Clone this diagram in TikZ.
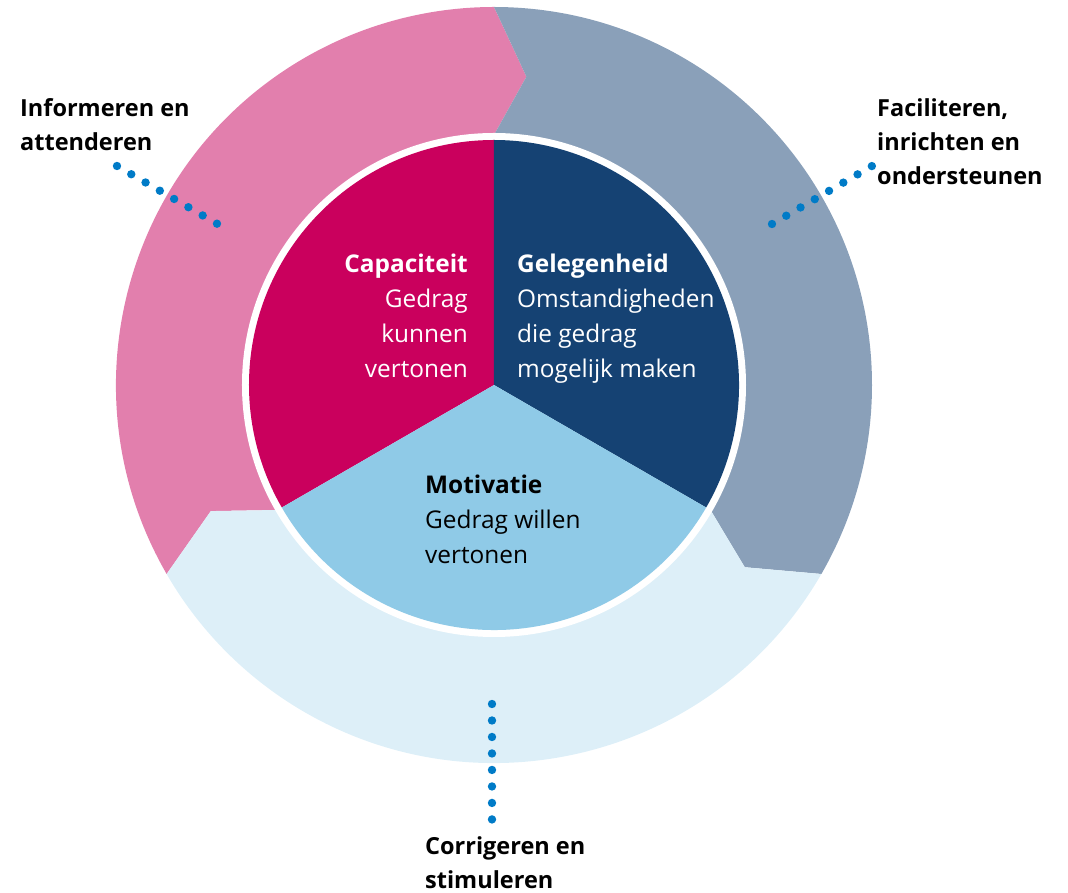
\documentclass[tikz,border=0pt]{standalone}
\usepackage{fontspec}
\setmainfont{Open Sans}
\definecolor{ringpink}{HTML}{E27FAD}
\definecolor{ringgray}{HTML}{8AA0B9}
\definecolor{ringlight}{HTML}{DDEFF8}
\definecolor{capred}{HTML}{CA005D}
\definecolor{geldark}{HTML}{154273}
\definecolor{motblue}{HTML}{8FCAE7}
\definecolor{dotblue}{HTML}{007BC7}
\begin{document}
\begin{tikzpicture}[x=1pt,y=1pt,
  inlabel/.style={inner sep=0pt,font=\fontsize{24.4}{34.7}\selectfont},
  outlabel/.style={inner sep=0pt,align=left,anchor=base west,font=\fontsize{23.5}{34}\selectfont\bfseries},
  leader/.style={draw=dotblue,line width=8.4pt,line cap=round,dash pattern=on 0pt off 16.49pt}
]
\useasboundingbox (-494,385) rectangle (574,-508);
% outer ring segments
\fill[ringpink] (210:378) arc[start angle=210,end angle=90,radius=378] -- (84:310) -- (90:250)
  arc[start angle=90,end angle=210,radius=250] -- (204:310) -- cycle;
\fill[ringgray] (90:378) arc[start angle=90,end angle=-30,radius=378] -- (-36:310) -- (-30:250)
  arc[start angle=-30,end angle=90,radius=250] -- (84:310) -- cycle;
\fill[ringlight] (-30:378) arc[start angle=-30,end angle=-150,radius=378] -- (-156:310) -- (-150:250)
  arc[start angle=-150,end angle=-30,radius=250] -- (-36:310) -- cycle;
% white separator
\fill[white] (0,0) circle[radius=252];
% inner sectors
\fill[capred] (0,0) -- (90:245) arc[start angle=90,end angle=210,radius=245] -- cycle;
\fill[geldark] (0,0) -- (-30:245) arc[start angle=-30,end angle=90,radius=245] -- cycle;
\fill[motblue] (0,0) -- (210:245) arc[start angle=210,end angle=330,radius=245] -- cycle;
% inner texts (base anchor = baseline of last line)
\node[inlabel,align=right,anchor=base east,text=white] (cap) at (-26,7.9)
  {\textbf{Capaciteit}\\Gedrag\\kunnen\\vertonen};
\node[inlabel,align=left,anchor=base west,text=white] (gel) at (23,7.9)
  {\textbf{Gelegenheid}\\Omstandigheden\\die gedrag\\mogelijk maken};
\node[inlabel,align=left,anchor=base west,text=black] (mot) at (-69,-178.4)
  {\textbf{Motivatie}\\Gedrag willen\\vertonen};
% outer labels
\node[outlabel] (info) at (-474,234) {Informeren en\\attenderen};
\node[outlabel] (fac) at (383,200) {Faciliteren,\\inrichten en\\ondersteunen};
\node[outlabel] (cor) at (-69,-503) {Corrigeren en\\stimuleren};
% leaders
\coordinate (infoA) at (-377,219);
\coordinate (infoB) at (-277,161.3);
\coordinate (facA) at (278,161);
\coordinate (facB) at (378,219);
\coordinate (corA) at (-2,-319);
\coordinate (corB) at (-2,-434.5);
\draw[leader] (infoA) -- (infoB);
\draw[leader] (facA) -- (facB);
\draw[leader] (corA) -- (corB);
\end{tikzpicture}
\end{document}
